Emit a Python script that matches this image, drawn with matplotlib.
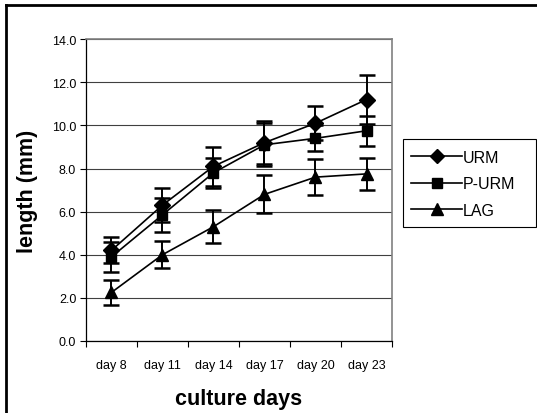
import matplotlib.pyplot as plt
from matplotlib.lines import Line2D
from matplotlib.patches import Rectangle

plt.rcParams['font.family'] = ['Liberation Sans', 'DejaVu Sans']

days = ['day 8', 'day 11', 'day 14', 'day 17', 'day 20', 'day 23']

urm = [4.2, 6.3, 8.1, 9.2, 10.1, 11.2]
urm_err = [0.6, 0.8, 0.9, 1.0, 0.8, 1.15]
purm = [3.9, 5.85, 7.8, 9.1, 9.4, 9.75]
purm_err = [0.7, 0.8, 0.7, 1.0, 0.6, 0.7]
lag = [2.25, 4.0, 5.3, 6.8, 7.6, 7.75]
lag_err = [0.6, 0.63, 0.77, 0.88, 0.85, 0.75]

series = [('URM', urm, urm_err, 'D', 8),
          ('P-URM', purm, purm_err, 's', 7.5),
          ('LAG', lag, lag_err, '^', 9)]

fig = plt.figure(figsize=(5.37, 4.14), dpi=100)
ax = fig.add_axes([0.160, 0.174, 0.570, 0.729])

x = list(range(len(days)))
handles = []
for name, vals, err, mk, ms in series:
    ax.errorbar(x, vals, yerr=err, color='black', lw=1.2, marker=mk, ms=ms,
                capsize=5.5, capthick=1.8, elinewidth=1.4)
    handles.append(Line2D([], [], color='black', lw=1.2, marker=mk, ms=ms - 1,
                          label=name))

ax.set_xlim(-0.5, len(days) - 0.5)
ax.set_ylim(0, 14)
ax.set_yticks([0, 2, 4, 6, 8, 10, 12, 14])
ax.set_yticklabels([f'{v:.1f}' for v in range(0, 15, 2)], fontsize=9)
ax.set_xticks(x)
ax.set_xticklabels(days, fontsize=9)
ax.set_xticks([i - 0.5 for i in range(len(days) + 1)], minor=True)
ax.tick_params(axis='x', which='major', length=0, pad=13)
ax.tick_params(axis='x', which='minor', length=4, width=0.8, direction='out')
ax.tick_params(axis='y', length=4, width=0.8, direction='out', pad=3)

ax.grid(axis='y', color='#404040', lw=0.8)
ax.set_axisbelow(True)
for s in ['top', 'right']:
    ax.spines[s].set_color('#808080')
    ax.spines[s].set_linewidth(1.2)
for s in ['left', 'bottom']:
    ax.spines[s].set_color('black')
    ax.spines[s].set_linewidth(0.9)

ax.set_xlabel('culture days', fontsize=15.5, fontweight='bold', labelpad=12)
ax.set_ylabel('length (mm)', fontsize=15.5, fontweight='bold', labelpad=10)

# legend box reaches the right edge of the chart area
fig.add_artist(Rectangle((403 / 537, 1 - 228 / 414), 133 / 537, 88 / 414,
                         transform=fig.transFigure, fill=False,
                         edgecolor='black', lw=0.8))
fig.legend(handles=handles, loc='upper left',
           bbox_to_anchor=(403 / 537, 1 - 143 / 414),
           fontsize=11.5, frameon=False,
           handlelength=3.2, handletextpad=0.05, borderpad=0.5,
           labelspacing=0.72, borderaxespad=0)

# outer chart frame (left and top edges)
fig.add_artist(Line2D([6 / 537, 6 / 537], [0, 1 - 6 / 414], color='black', lw=2,
                      transform=fig.transFigure))
fig.add_artist(Line2D([6 / 537, 1], [1 - 6 / 414, 1 - 6 / 414], color='black', lw=2,
                      transform=fig.transFigure))

fig.savefig('out.png', dpi=100)
